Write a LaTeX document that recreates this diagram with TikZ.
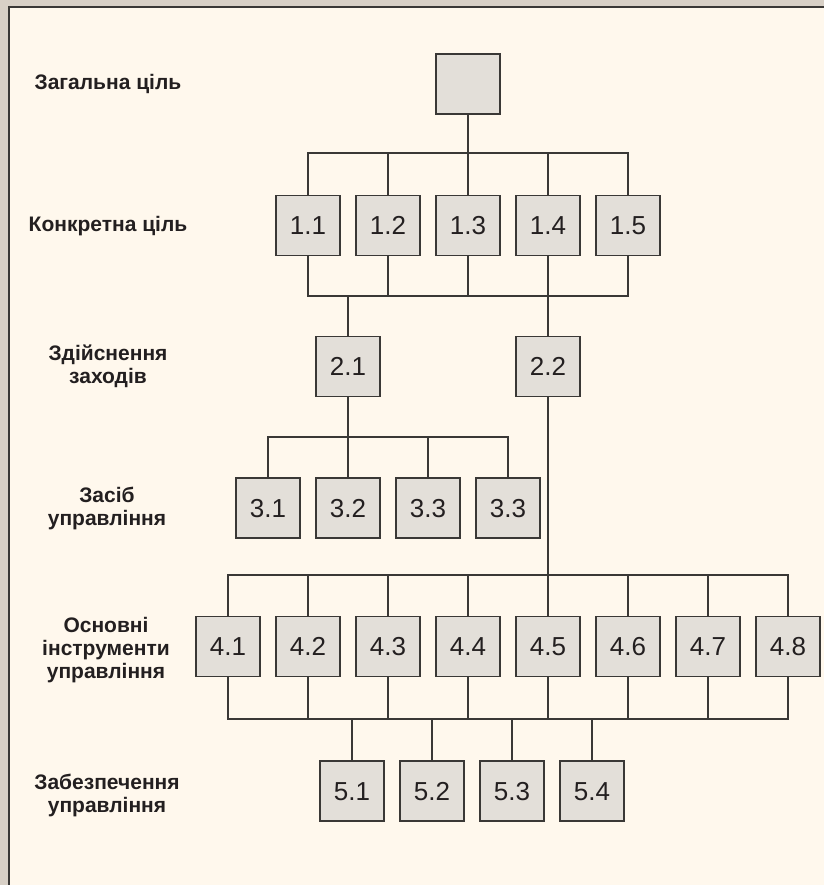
\documentclass[tikz,border=0pt]{standalone}
\usepackage{fontspec}
\setmainfont{Liberation Sans}
\definecolor{outercol}{RGB}{216,208,198}
\definecolor{panelcol}{RGB}{255,248,237}
\definecolor{boxcol}{RGB}{227,223,217}
\definecolor{linecol}{RGB}{58,56,54}
\definecolor{textcol}{RGB}{35,31,32}
\tikzset{
  box/.style={draw=linecol, fill=boxcol, line width=1.3pt, minimum width=64pt, minimum height=60pt, inner sep=0pt, text=textcol, text height=18.5pt, text depth=0pt, font=\fontsize{26}{26}\selectfont},
  lvl/.style={align=center, text=textcol, font=\bfseries\fontsize{21}{23}\selectfont, inner sep=0pt},
  conn/.style={draw=linecol, line width=1.3pt}
}
\begin{document}
\begin{tikzpicture}[x=1pt,y=-1pt]
\useasboundingbox (0,0) rectangle (824,885);
\fill[outercol] (0,0) rectangle (824,885);
\fill[panelcol] (9,7) rectangle (824,885);
\draw[linecol, line width=1.6pt] (9,885) -- (9,7) -- (824,7);

% level labels
\node[lvl] (l0) at (108,84) {Загальна ціль};
\node[lvl] (l1) at (108,226) {Конкретна ціль};
\node[lvl] (l2) at (108,366) {Здійснення\\заходів};
\node[lvl] (l3) at (107,508) {Засіб\\управління};
\node[lvl] (l4) at (106,650) {Основні\\інструменти\\управління};
\node[lvl] (l5) at (107,795) {Забезпечення\\управління};

% buses
\coordinate (bA) at (0,153);
\coordinate (bB) at (0,296);
\coordinate (bC) at (0,437);
\coordinate (bD) at (0,575);
\coordinate (bE) at (0,719);

% nodes
\node[box] (g) at (468,84) {};
\foreach \i/\x in {1/308,2/388,3/468,4/548,5/628}
  \node[box] (a\i) at (\x,225.5) {1.\i};
\node[box] (b1) at (348,366.5) {2.1};
\node[box] (b2) at (548,366.5) {2.2};
\foreach \i/\x/\t in {1/268/3.1,2/348/3.2,3/428/3.3,4/508/3.3}
  \node[box] (c\i) at (\x,508) {\t};
\foreach \i/\x in {1/228,2/308,3/388,4/468,5/548,6/628,7/708,8/788}
  \node[box] (d\i) at (\x,646.5) {4.\i};
\foreach \i/\x in {1/352,2/432,3/512,4/592}
  \node[box] (e\i) at (\x,791) {5.\i};

% connectors level 0 -> 1
\draw[conn] (g.south) -- (g.south |- bA);
\draw[conn] (a1.north) -- (a1.north |- bA) -- (a5.north |- bA) -- (a5.north);
\foreach \i in {2,3,4}
  \draw[conn] (a\i.north) -- (a\i.north |- bA);

% level 1 -> 2
\draw[conn] (a1.south) -- (a1.south |- bB) -- (a5.south |- bB) -- (a5.south);
\foreach \i in {2,3,4}
  \draw[conn] (a\i.south) -- (a\i.south |- bB);
\draw[conn] (b1.north |- bB) -- (b1.north);
\draw[conn] (a4.south) -- (b2.north);

% level 2 -> 3
\draw[conn] (b1.south) -- (b1.south |- bC);
\draw[conn] (c1.north) -- (c1.north |- bC) -- (c4.north |- bC) -- (c4.north);
\foreach \i in {2,3}
  \draw[conn] (c\i.north) -- (c\i.north |- bC);

% level 2 -> 4
\draw[conn] (b2.south) -- (d5.north);
\draw[conn] (d1.north) -- (d1.north |- bD) -- (d8.north |- bD) -- (d8.north);
\foreach \i in {2,3,4,6,7}
  \draw[conn] (d\i.north) -- (d\i.north |- bD);

% level 4 -> 5
\draw[conn] (d1.south) -- (d1.south |- bE) -- (d8.south |- bE) -- (d8.south);
\foreach \i in {2,...,7}
  \draw[conn] (d\i.south) -- (d\i.south |- bE);
\foreach \i in {1,...,4}
  \draw[conn] (e\i.north) -- (e\i.north |- bE);
\end{tikzpicture}
\end{document}
